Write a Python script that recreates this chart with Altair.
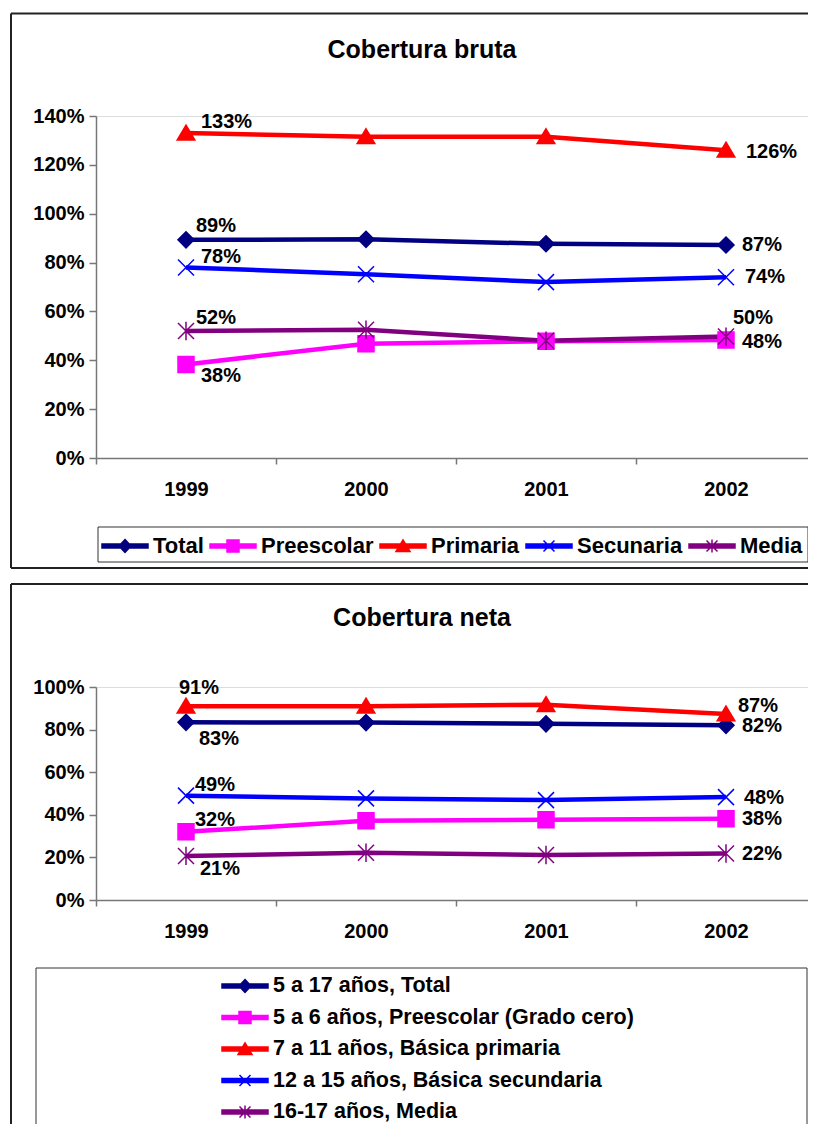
import altair as alt
import pandas as pd

FONT = "Liberation Sans"

years = ["1999", "2000", "2001", "2002"]
colors = ["#000080", "#FF00FF", "#FF0000", "#0000FF", "#800080"]

# Panel 1: Cobertura bruta
names1 = ["Total", "Preescolar", "Primaria", "Secunaria", "Media"]
total1 = [0.893, 0.895, 0.877, 0.872]
pre1 = [0.383, 0.468, 0.478, 0.483]
pri1 = [1.33, 1.315, 1.315, 1.26]
sec1 = [0.78, 0.752, 0.72, 0.74]
med1 = [0.52, 0.525, 0.48, 0.497]

# Panel 2: Cobertura neta
names2 = ["5 a 17 años, Total", "5 a 6 años, Preescolar (Grado cero)",
          "7 a 11 años,  Básica primaria", "12 a 15 años, Básica secundaria",
          "16-17 años, Media"]
total2 = [0.834, 0.833, 0.827, 0.82]
pre2 = [0.32, 0.372, 0.377, 0.382]
pri2 = [0.91, 0.91, 0.917, 0.873]
sec2 = [0.49, 0.477, 0.469, 0.483]
med2 = [0.207, 0.222, 0.211, 0.218]

yticks1 = [0, 0.2, 0.4, 0.6, 0.8, 1.0, 1.2, 1.4]
yticks2 = [0, 0.2, 0.4, 0.6, 0.8, 1.0]

# marker shapes (plot) and legend symbols (line + marker)
marker_paths = [
    "M0,-1L1,0L0,1L-1,0Z",
    "M-1,-1H1V1H-1Z",
    "M0,-1L1.1,0.85L-1.1,0.85Z",
    "M-1,-1L1,1M-1,1L1,-1",
    "M-1,-1L1,1M-1,1L1,-1M0,-1.15L0,1.15",
]
bar = "M-2.3,-0.2H2.3V0.2H-2.3Z"
legend_paths = [
    bar + "M0,-0.65L0.6,0L0,0.65L-0.6,0Z",
    bar + "M-0.6,-0.6H0.6V0.6H-0.6Z",
    bar + "M0,-0.6L0.7,0.55L-0.7,0.55Z",
    bar + "M-0.55,-0.55L0.55,0.55M-0.55,0.55L0.55,-0.55",
    bar + "M-0.55,-0.55L0.55,0.55M-0.55,0.55L0.55,-0.55M0,-0.65L0,0.65",
]

# label placement (series index, year, dx, dy)
labels1 = [(2, "1999", 15, -11), (0, "1999", 10, -14), (3, "1999", 15, -10),
           (4, "1999", 10, -13), (1, "1999", 15, 12), (2, "2002", 20, 2),
           (0, "2002", 16, 0), (3, "2002", 19, 0), (4, "2002", 7, -19),
           (1, "2002", 16, 2)]
labels2 = [(2, "1999", -7, -18), (0, "1999", 13, 17), (3, "1999", 9, -11),
           (1, "1999", 9, -12), (4, "1999", 14, 13), (2, "2002", 12, -8),
           (0, "2002", 16, 1), (3, "2002", 18, 1), (1, "2002", 16, 0),
           (4, "2002", 16, 0)]


def make_df(names, vals):
    rows = []
    for n, vs in zip(names, vals):
        for yr, v in zip(years, vs):
            rows.append({"series": n, "year": yr, "value": v})
    return pd.DataFrame(rows)


def panel(names, vals, ymax, yticks, h, title, title_pos, labels,
          legend, frame, boxes):
    df = make_df(names, vals)
    xenc = alt.X("year:O",
                 scale=alt.Scale(type="band", domain=years, paddingInner=0, paddingOuter=0),
                 bandPosition=0.5,
                 axis=alt.Axis(title=None, labelAngle=0, tickBand="extent", tickSize=6,
                               labelPadding=15, labelFont=FONT, labelFontSize=20,
                               labelFontWeight="bold", labelColor="black",
                               domainColor="#777777", tickColor="#777777",
                               domainWidth=1.5, tickWidth=1.5))
    yenc = alt.Y("value:Q",
                 scale=alt.Scale(domain=[0, ymax], nice=False, zero=True),
                 axis=alt.Axis(title=None, values=yticks, format=".0%", grid=False,
                               tickSize=7, labelPadding=5, labelFont=FONT,
                               labelFontSize=20, labelFontWeight="bold",
                               labelColor="black", domainColor="#777777",
                               tickColor="#777777", domainWidth=1.5, tickWidth=1.5))
    cscale = alt.Scale(domain=names, range=colors)
    base = alt.Chart(df)
    deco = alt.Chart(pd.DataFrame({"k": [0]}))

    layers = []
    for (x1, x2, y1, y2, w, c) in frame + boxes:
        layers.append(deco.mark_rule(color=c, strokeWidth=w).encode(
            x=alt.value(x1), x2=alt.value(x2), y=alt.value(y1), y2=alt.value(y2)))
    # panel title
    layers.append(alt.Chart(pd.DataFrame({"t": [title]})).mark_text(
        align="center", baseline="alphabetic", font=FONT, fontSize=25,
        fontWeight="bold", color="black").encode(
        x=alt.value(title_pos[0]), y=alt.value(title_pos[1]), text="t:N"))

    layers.append(base.mark_line(strokeWidth=4.5).encode(
        x=xenc, y=yenc, color=alt.Color("series:N", scale=cscale, legend=None)))
    layers.append(base.mark_point(filled=True, size=256, strokeWidth=1.5, opacity=1).encode(
        x=xenc, y=yenc,
        fill=alt.Fill("series:N", scale=cscale, legend=None),
        stroke=alt.Stroke("series:N", scale=cscale, legend=None),
        shape=alt.Shape("series:N", scale=alt.Scale(domain=names, range=marker_paths),
                        legend=None)))
    for (si, yr, dx, dy) in labels:
        layers.append(base.transform_filter(
            (alt.datum.series == names[si]) & (alt.datum.year == yr)
        ).mark_text(align="left", baseline="middle", dx=dx, dy=dy, font=FONT,
                    fontSize=20, fontWeight="bold", color="black").encode(
            x=xenc, y=yenc, text=alt.Text("value:Q", format=".0%")))

    leg = alt.Legend(title=None, orient="none", labelFont=FONT, labelFontWeight="bold",
                     labelColor="black", symbolSize=400, symbolStrokeWidth=1.5,
                     symbolOpacity=1, labelLimit=800, padding=0, **legend)
    lscale_c = alt.Scale(domain=names, range=colors)
    layers.append(base.mark_point(filled=True, opacity=0, size=400).encode(
        x=xenc, y=yenc,
        fill=alt.Fill("series:N", scale=lscale_c, legend=leg),
        stroke=alt.Stroke("series:N", scale=lscale_c, legend=leg),
        shape=alt.Shape("series:N", scale=alt.Scale(domain=names, range=legend_paths),
                        legend=leg)))

    return alt.layer(*layers).resolve_scale(
        shape="independent", fill="independent", stroke="independent",
        color="independent"
    ).properties(width=720, height=h)


frame1 = [(-85, 725, -102.5, -102.5, 2, "#222222"),
          (-85, -85, -102.5, 452, 2, "#222222"),
          (-85, 725, 452, 452, 2, "#222222")]
boxes1 = [(2, 712, 411, 411, 1, "#333333"), (2, 712, 446, 446, 1, "#333333"),
          (2, 2, 411, 446, 1, "#333333"), (712, 712, 411, 446, 1, "#333333")]
legend1 = dict(legendX=18, legendY=419, direction="horizontal", columns=5,
               labelFontSize=22, labelOffset=17, columnPadding=3)

frame2 = [(-85, 725, -103, -103, 2, "#222222"),
          (-85, -85, -103, 452, 2, "#222222")]
boxes2 = [(-60, 711, 281, 281, 1, "#333333"), (-60, -60, 281, 452, 1, "#333333"),
          (711, 711, 281, 452, 1, "#333333")]
legend2 = dict(legendX=138, legendY=288, direction="vertical", columns=1,
               labelFontSize=21.5, labelOffset=17, rowPadding=9.5)

p1 = panel(names1, [total1, pre1, pri1, sec1, med1], 1.4, yticks1, 342,
           "Cobertura bruta", (326, -58), labels1, legend1, frame1, boxes1)
p2 = panel(names2, [total2, pre2, pri2, sec2, med2], 1.0, yticks2, 213,
           "Cobertura neta", (326, -61), labels2, legend2, frame2, boxes2)

chart = alt.vconcat(p1, p2, spacing=12).resolve_scale(
    color="independent", fill="independent", stroke="independent", shape="independent"
).properties(
    padding={"left": 1, "top": 4, "right": -15, "bottom": -17}
).configure_view(stroke=None).configure(background="white")

chart.save("out.html", embed_options={"renderer": "svg", "actions": False})
